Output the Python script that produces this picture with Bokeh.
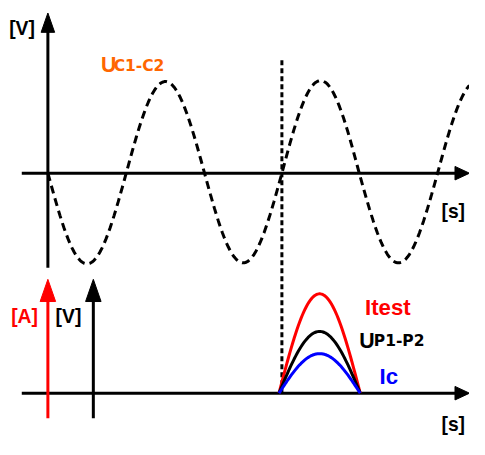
import numpy as np
from bokeh.plotting import figure
from bokeh.models import Range1d
from bokeh.embed import file_html
from bokeh.resources import INLINE
from bokeh.core.properties import value

# ---- values (image pixel units) ----
# top panel: dashed sinusoid U_C1-C2, zero crossings and half-wave amplitudes
wave_crossings = [49, 130, 211, 291, 371, 452, 533]
wave_amplitudes = [94, -95, 93, -96, 93, -95]   # + = below axis (image y grows down)
wave_end_x = 485

# bottom panel: half-sine pulses
pulse_start = 288
pulse_end = 372
pulse_names = ["Itest", "UP1-P2", "Ic"]
pulse_peaks = [103, 64, 41]
pulse_colors = ["#ff0000", "#000000", "#0000ff"]

# axes geometry
top_axis_y = 179
bottom_axis_y = 407
axis_x_start = 22
axis_x_tip = 485
top_v_x = 49
top_v_bottom = 277
top_v_tip = 13
red_arrow_x = 49
black_arrow_x = 96
low_arrow_bottom = 433
low_arrow_tip = 289
marker_x = 291
marker_top = 62

W, H = 485, 455
PW, PH = 469, 439
S = PW / W

p = figure(width=PW, height=PH, x_range=Range1d(0, W), y_range=Range1d(H, 0),
           output_backend="svg", toolbar_location=None, min_border=0,
           x_axis_type=None, y_axis_type=None)
p.grid.visible = False
p.outline_line_color = None
p.background_fill_color = "white"

LW = 3

def arrow_h(y, x0, tip, color, hl=15, hw=7):
    p.line([x0, tip - hl + 1], [y, y], line_color=color, line_width=LW)
    p.patch([tip, tip - hl, tip - hl], [y, y - hw, y + hw], fill_color=color, line_color=color)

def arrow_v(x, y0, tip, color, hl=21, hw=7):
    p.line([x, x], [y0, tip + hl - 1], line_color=color, line_width=LW)
    p.patch([x, x - hw, x + hw], [tip, tip + hl, tip + hl], fill_color=color, line_color=color)

# dashed sinusoid
xs_all, ys_all = [], []
for i, amp in enumerate(wave_amplitudes):
    a, b = wave_crossings[i], wave_crossings[i + 1]
    xs = np.linspace(a, min(b, wave_end_x), 40)
    ys = top_axis_y + amp * np.sin(np.pi * (xs - a) / (b - a))
    if i > 0:
        xs, ys = xs[1:], ys[1:]
    xs_all.extend(xs.tolist())
    ys_all.extend(ys.tolist())
    if b >= wave_end_x:
        break
p.line(xs_all, ys_all, line_color="black", line_width=LW, line_dash="8 5")

# vertical dotted marker
p.line([marker_x, marker_x], [marker_top, bottom_axis_y], line_color="black",
       line_width=LW, line_dash="5 3")

# axes
arrow_h(top_axis_y, axis_x_start, axis_x_tip, "black")
arrow_v(top_v_x, top_v_bottom, top_v_tip, "black", hl=20, hw=7)
arrow_h(bottom_axis_y, axis_x_start, axis_x_tip, "black")
arrow_v(red_arrow_x, low_arrow_bottom, low_arrow_tip, "#ff0000", hl=23, hw=8)
arrow_v(black_arrow_x, low_arrow_bottom, low_arrow_tip, "black", hl=23, hw=8)

# pulses
px = np.linspace(pulse_start, pulse_end, 60)
for peak, col in zip(pulse_peaks, pulse_colors):
    py = bottom_axis_y - peak * np.sin(np.pi * (px - pulse_start) / (pulse_end - pulse_start))
    p.line(px.tolist(), py.tolist(), line_color=col, line_width=LW)

def label(x, y, t, size, color, font="Liberation Sans"):
    p.text(x=[x], y=[y], text=[t], text_font=value(font), text_font_size=f"{size * S:.1f}px",
           text_font_style="bold", text_color=color, text_align="left",
           text_baseline="alphabetic")

SUB = "DejaVu Sans"
label(9, 29, "[V]", 20, "black")
label(104, 67, "U", 22, "#ff6600")
label(117, 68, "C1-C2", 16, "#ff6600", SUB)
label(456, 219, "[s]", 20, "black")
label(456, 439, "[s]", 20, "black")
label(11, 327, "[A]", 20, "#ff0000")
label(57, 327, "[V]", 20, "black")
label(377, 318, "Itest", 23, "#ff0000")
label(371, 353, "U", 22, "black")
label(386, 353, "P1-P2", 16, "black", SUB)
label(392, 390, "Ic", 23, "#0000ff")

open("out.html", "w").write(file_html(p, INLINE))
